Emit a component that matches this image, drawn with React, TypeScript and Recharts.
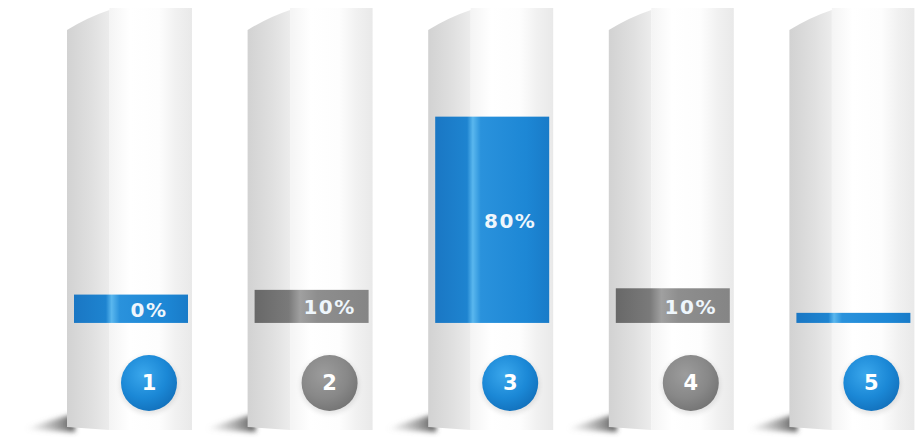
import React from 'react';
import { ComposedChart, Bar, XAxis, YAxis, LabelList } from 'recharts';

const categories = ['1', '2', '3', '4', '5'];
const fillLevels = [9, 10.5, 65.5, 11, 3.2];
const valueLabels = ['0%', '10%', '80%', '10%', ''];
const tones = ['blue', 'gray', 'blue', 'gray', 'blue'];

const data = categories.map((c, i) => ({
  name: c,
  level: fillLevels[i],
  label: valueLabels[i],
  tone: tones[i],
}));

const LEFT_FACE = 0.34;
const FRONT_CENTER = 0.656;

function Defs() {
  return (
    <svg width={0} height={0} style={{ position: 'absolute' }}>
      <defs>
        <linearGradient id="leftFace" x1="0" x2="1" y1="0" y2="0">
          <stop offset="0" stopColor="#d2d2d2" />
          <stop offset="0.6" stopColor="#e0e0e0" />
          <stop offset="1" stopColor="#ececec" />
        </linearGradient>
        <linearGradient id="frontFace" x1="0" x2="1" y1="0" y2="0">
          <stop offset="0" stopColor="#f4f4f4" />
          <stop offset="0.25" stopColor="#ffffff" />
          <stop offset="0.6" stopColor="#fdfdfd" />
          <stop offset="0.8" stopColor="#f1f1f1" />
          <stop offset="1" stopColor="#e9e9e9" />
        </linearGradient>
        <linearGradient id="blueBand" x1="0" x2="1" y1="0" y2="0">
          <stop offset="0" stopColor="#1a77c4" />
          <stop offset="0.28" stopColor="#1e84d0" />
          <stop offset="0.33" stopColor="#5ab7ee" />
          <stop offset="0.4" stopColor="#2a92dc" />
          <stop offset="0.8" stopColor="#1d87d5" />
          <stop offset="1" stopColor="#197bc8" />
        </linearGradient>
        <linearGradient id="grayBand" x1="0" x2="1" y1="0" y2="0">
          <stop offset="0" stopColor="#686868" />
          <stop offset="0.3" stopColor="#7a7a7a" />
          <stop offset="0.4" stopColor="#a0a0a0" />
          <stop offset="0.55" stopColor="#8e8e8e" />
          <stop offset="1" stopColor="#858585" />
        </linearGradient>
        <linearGradient id="groundShadow" x1="0" x2="1" y1="0" y2="0">
          <stop offset="0" stopColor="#999999" stopOpacity="0" />
          <stop offset="0.5" stopColor="#777777" stopOpacity="0.5" />
          <stop offset="1" stopColor="#444444" stopOpacity="0.9" />
        </linearGradient>
        <radialGradient id="blueDot" cx="0.4" cy="0.35" r="0.7">
          <stop offset="0" stopColor="#3aa7ec" />
          <stop offset="0.6" stopColor="#1b88d6" />
          <stop offset="1" stopColor="#1270bb" />
        </radialGradient>
        <radialGradient id="grayDot" cx="0.4" cy="0.35" r="0.7">
          <stop offset="0" stopColor="#9c9c9c" />
          <stop offset="0.6" stopColor="#888888" />
          <stop offset="1" stopColor="#737373" />
        </radialGradient>
        <filter id="softShadow" x="-50%" y="-100%" width="200%" height="300%">
          <feGaussianBlur stdDeviation="2.5" />
        </filter>
      </defs>
    </svg>
  );
}

function Pillar(props: any) {
  const { x, y, width, height, index } = props;
  const lf = width * LEFT_FACE;
  const bottom = y + height;
  const tone = tones[index];
  const cx = x + width * FRONT_CENTER;
  const cy = bottom - 47;
  return (
    <g>
      <path
        d={`M ${x - 42} ${bottom - 1} Q ${x - 18} ${bottom - 10} ${x + 8} ${bottom - 16} L ${x + 8} ${bottom + 2} Z`}
        fill="url(#groundShadow)"
        filter="url(#softShadow)"
      />
      <path
        d={`M ${x} ${y + 22} Q ${x + lf * 0.5} ${y + 9} ${x + lf} ${y + 2} L ${x + lf} ${bottom} L ${x} ${bottom - 3} Z`}
        fill="url(#leftFace)"
      />
      <rect x={x + lf} y={y} width={width - lf} height={height} fill="url(#frontFace)" />
      <circle cx={cx} cy={cy + 2} r={29} fill="#000" opacity={0.1} filter="url(#softShadow)" />
      <circle cx={cx} cy={cy} r={28} fill={`url(#${tone}Dot)`} />
      <text
        x={cx}
        y={cy}
        textAnchor="middle"
        dominantBaseline="central"
        fill="#ffffff"
        fontFamily="DejaVu Sans, Verdana, sans-serif"
        fontWeight="bold"
        fontSize={21}
      >
        {categories[index]}
      </text>
    </g>
  );
}

function Band(props: any) {
  const { x, y, width, height, payload } = props;
  const bx = x + width * 0.056;
  const bw = width * 0.912;
  return <rect x={bx} y={y} width={bw} height={height} fill={`url(#${payload.tone}Band)`} />;
}

function BandLabel(props: any) {
  const { x, y, width, height, value } = props;
  if (!value) return null;
  return (
    <text
      x={x + width * FRONT_CENTER}
      y={y + height / 2 + 1}
      textAnchor="middle"
      dominantBaseline="central"
      fill="#eef6fc"
      fontFamily="DejaVu Sans, Verdana, sans-serif"
      fontWeight="bold"
      fontSize={20}
      letterSpacing={1.5}
    >
      {value}
    </text>
  );
}

export default function App() {
  return (
    <div style={{ position: 'fixed', left: 0, top: 0, width: 915, height: 438, background: '#ffffff' }}>
      <Defs />
      <ComposedChart width={915} height={438} data={data} margin={{ top: 8, right: -27, bottom: 8, left: 39 }}>
        <XAxis dataKey="name" hide />
        <YAxis hide type="number" domain={[-34, 100]} allowDataOverflow />
        <Bar
          dataKey="level"
          barSize={125}
          isAnimationActive={false}
          background={(p: any) => <Pillar key={`p-${p.index}`} {...p} />}
          shape={(p: any) => <Band {...p} />}
        >
          <LabelList dataKey="label" content={(p: any) => <BandLabel {...p} />} />
        </Bar>
      </ComposedChart>
    </div>
  );
}
